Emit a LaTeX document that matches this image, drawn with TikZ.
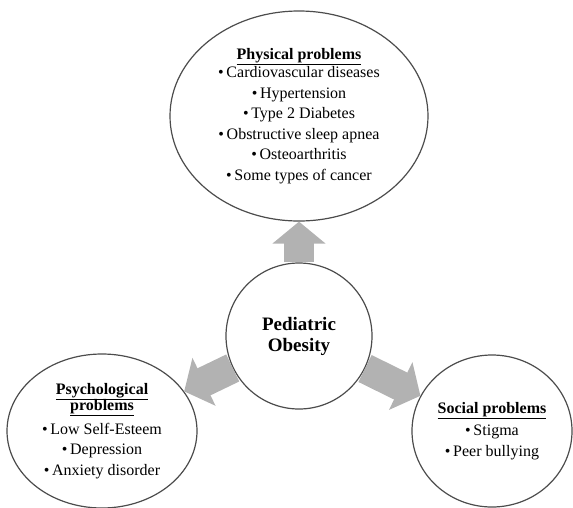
\documentclass[tikz,border=0pt]{standalone}
\usepackage{fontspec}
\setmainfont{Liberation Serif}
\usetikzlibrary{shapes.geometric,arrows.meta}

\begin{document}
\begin{tikzpicture}[x=1pt,y=-1pt,
  problem/.style={ellipse,draw=black!70,line width=1.2pt,align=center,inner sep=0pt,font=\fontsize{16}{20.5}\selectfont},
  bigarrow/.style={draw=black!30,line width=30pt,-{Triangle[length=22pt,width=52pt]}}]
\useasboundingbox (0,0) rectangle (573,507);
\node[circle,draw=black!70,line width=1.2pt,minimum size=146pt,align=center,font=\fontsize{19}{21}\selectfont\bfseries] (obesity) at (299,336) {Pediatric\\Obesity};
\node[problem,minimum width=258pt,minimum height=210pt] (physical) at (299,116) {\underline{\textbf{Physical problems}}\\[-2pt]
  •\,Cardiovascular diseases\\ •\,Hypertension\\ •\,Type 2 Diabetes\\ •\,Obstructive sleep apnea\\ •\,Osteoarthritis\\ •\,Some types of cancer};
\node[problem,minimum width=190pt,minimum height=154pt] (psychological) at (102,431) {\underline{\textbf{Psychological}}\\[-4pt] \underline{\textbf{problems}}\\[3pt]
  •\,Low Self-Esteem\\ •\,Depression\\ •\,Anxiety disorder};
\node[problem,minimum width=160pt,minimum height=152pt] (social) at (492,431) {\underline{\textbf{Social problems}}\\[2pt]
  •\,Stigma\\ •\,Peer bullying};
\draw[bigarrow] (obesity) -- (physical);
\draw[bigarrow] (obesity) -- (psychological);
\draw[bigarrow] (obesity) -- (social);
\end{tikzpicture}
\end{document}
